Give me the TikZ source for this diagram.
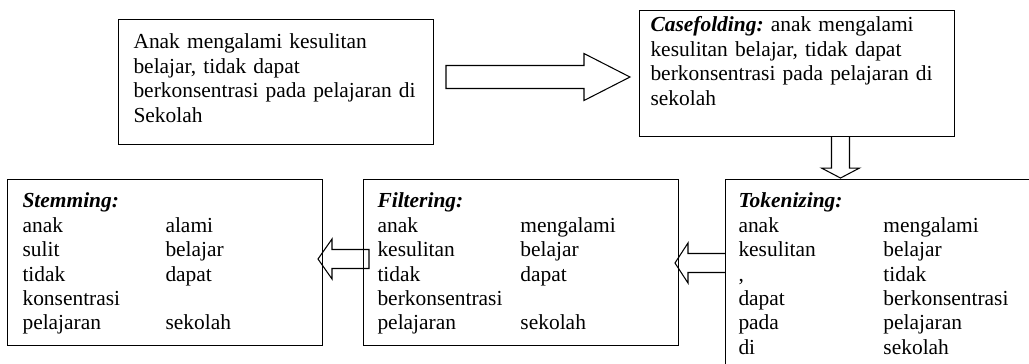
\documentclass[tikz,border=0pt]{standalone}
\usepackage{fontspec}
\setmainfont{Liberation Serif}
\usetikzlibrary{calc,positioning}

\newcommand{\kolom}[3][2.86cm]{\makebox[#1][l]{#2}#3}

\begin{document}
\begin{tikzpicture}[x=0.02cm,y=-0.02cm,font=\fontsize{12.2}{13.94}\selectfont,
box/.style={draw,line width=0.6pt,align=left,inner ysep=0pt,anchor=north west},
fat/.style={draw,line width=0.6pt,line join=miter}]
\useasboundingbox (0,0) rectangle (1029,363);
\clip (0,0) rectangle (1029,363);
\node[box,text width=5.70cm,inner xsep=0.30cm,text height=0.58cm,text depth=1.92cm] (input) at (118,19) {Anak mengalami kesulitan\\belajar, tidak dapat\\berkonsentrasi pada pelajaran di\\Sekolah};
\node[box,text width=5.86cm,inner xsep=0.22cm,text height=0.42cm,text depth=2.10cm] (cf) at (639,10) {{\bfseries\itshape Casefolding:}\ anak mengalami\\kesulitan belajar, tidak dapat\\berkonsentrasi pada pelajaran di\\sekolah};
\node[box,text width=5.74cm,inner xsep=0.28cm,text height=0.56cm,text depth=2.76cm] (filt) at (363,179) {\textbf{\textit{Filtering:}}\\\kolom{anak}{mengalami}\\\kolom{kesulitan}{belajar}\\\kolom{tidak}{dapat}\\berkonsentrasi\\\kolom{pelajaran}{sekolah}};
\node[box,text width=5.70cm,inner xsep=0.30cm,text height=0.56cm,text depth=2.76cm,left=0.80cm of filt.north west,anchor=north east] (stem) {\textbf{\textit{Stemming:}}\\\kolom{anak}{alami}\\\kolom{sulit}{belajar}\\\kolom{tidak}{dapat}\\konsentrasi\\\kolom{pelajaran}{sekolah}};
\node[box,text width=5.78cm,inner xsep=0.26cm,text height=0.56cm,text depth=4.00cm,right=0.92cm of filt.north east,anchor=north west] (tok) {\textbf{\textit{Tokenizing:}}\\\kolom[2.90cm]{anak}{mengalami}\\\kolom[2.90cm]{kesulitan}{belajar}\\\kolom[2.90cm]{,}{tidak}\\\kolom[2.90cm]{dapat}{berkonsentrasi}\\\kolom[2.90cm]{pada}{pelajaran}\\\kolom[2.90cm]{di}{sekolah}};
% block arrows
\draw[fat] ($(input.east)+(12,-16.5)$) -- ++(138,0) -- ++(0,-12) -- ++(46,23.5) -- ++(-46,23.5) -- ++(0,-12) -- ++(-138,0) -- cycle;
\draw[fat] ($(cf.south)+(34.5,0)$) -- ++(0,31) -- ++(-10,0) -- ++(19,10) -- ++(19,-10) -- ++(-10,0) -- ++(0,-31);
\draw[fat] ($(tok.north west)+(0,74.5)$) -- ++(-37,0) -- ++(0,-10.5) -- ++(-13,20) -- ++(13,20) -- ++(0,-10.5) -- ++(37,0);
\draw[fat] ($(filt.north west)+(6,70.5)$) -- ++(-37,0) -- ++(0,-10.5) -- ++(-14,20) -- ++(14,20) -- ++(0,-10.5) -- ++(37,0) -- cycle;
\end{tikzpicture}
\end{document}
